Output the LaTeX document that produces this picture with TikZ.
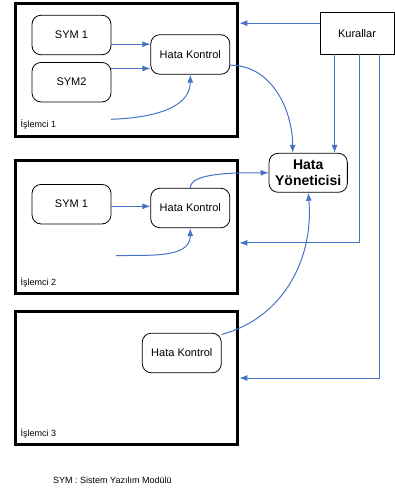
\documentclass[tikz,border=0pt]{standalone}
\usepackage{fontspec}
\setmainfont{Liberation Sans}
\usetikzlibrary{arrows.meta}
\definecolor{linkblue}{RGB}{68,114,196}
\begin{document}
\begin{tikzpicture}[x=1pt,y=-1pt]
   \tikzstyle{line} = [draw, linkblue, line width=1pt, -{Latex[length=8pt,width=6pt]}]
   \tikzstyle{frame} = [draw, line width=3.3pt, minimum width=222pt, minimum height=133pt]
   \tikzstyle{module} = [draw, rounded corners=9pt, line width=0.8pt, minimum width=79pt, minimum height=39.5pt, font=\fontsize{11}{13}\selectfont]
   \tikzstyle{tag} = [anchor=west, inner sep=0pt, font=\fontsize{9}{11}\selectfont]
   \useasboundingbox (0,0) rectangle (395,488);

   \node[frame] (p1) at (126.7,70)  {};
   \node[frame] (p2) at (126.7,227) {};
   \node[frame] (p3) at (126.7,378) {};

   \node[module] (sym1a) at (71.5,35)    {SYM 1};
   \node[module] (sym2)  at (71.5,82.2)  {SYM2};
   \node[module] (hk1)   at (190.3,54.5) {Hata Kontrol};
   \node[module] (sym1b) at (71.5,204.2) {SYM 1};
   \node[module] (hk2)   at (190.3,208)  {Hata Kontrol};
   \node[module] (hk3)   at (181.8,353)  {Hata Kontrol};
   \node[draw, line width=0.8pt, minimum width=74pt, minimum height=41.7pt, font=\fontsize{11}{13}\selectfont] (kur) at (357,33.2) {Kurallar};
   \node[module, minimum width=78.3pt, minimum height=39pt, align=center, font=\fontsize{14}{16}\selectfont\bfseries] (hy) at (308.2,172.8) {Hata\\Yöneticisi};

   \node[tag] (l1) at (20.5,125)   {İşlemci 1};
   \node[tag] (l2) at (20.5,282.7) {İşlemci 2};
   \node[tag] (l3) at (20.5,433.3) {İşlemci 3};
   \node[tag] (note) at (53,480)   {SYM : Sistem Yazılım Modülü};

   \coordinate (in1) at (111,119.3);
   \coordinate (in2) at (116,255.7);

   \path [line] (sym1a.-13) -- (sym1a.-13 -| hk1.west);
   \path [line] (sym2.19) -- (sym2.19 -| hk1.west);
   \path [line] (in1) to[out=2,in=-90] (hk1.south);

   \path [line] (sym1b.-3) -- (sym1b.-3 -| hk2.west);
   \path [line] (in2) to[out=2,in=-90] (hk2.south);

   \path [line] (hk1.-15) to[out=0,in=90] (hy.128);
   \path [line] (hk2.north) to[out=90,in=180,out looseness=0.5] (hy.west);
   \path [line] (hk3.25) to[out=15,in=-85] (hy.south);

   \path [line] (kur.165) -- (kur.165 -| p1.east);
   \path [line] (hy.37 |- kur.south) -- (hy.37);
   \path [line] (kur.-82) |- (p2.-8.4);
   \path [line] (kur.-43.5) |- (p3.east);
\end{tikzpicture}
\end{document}
